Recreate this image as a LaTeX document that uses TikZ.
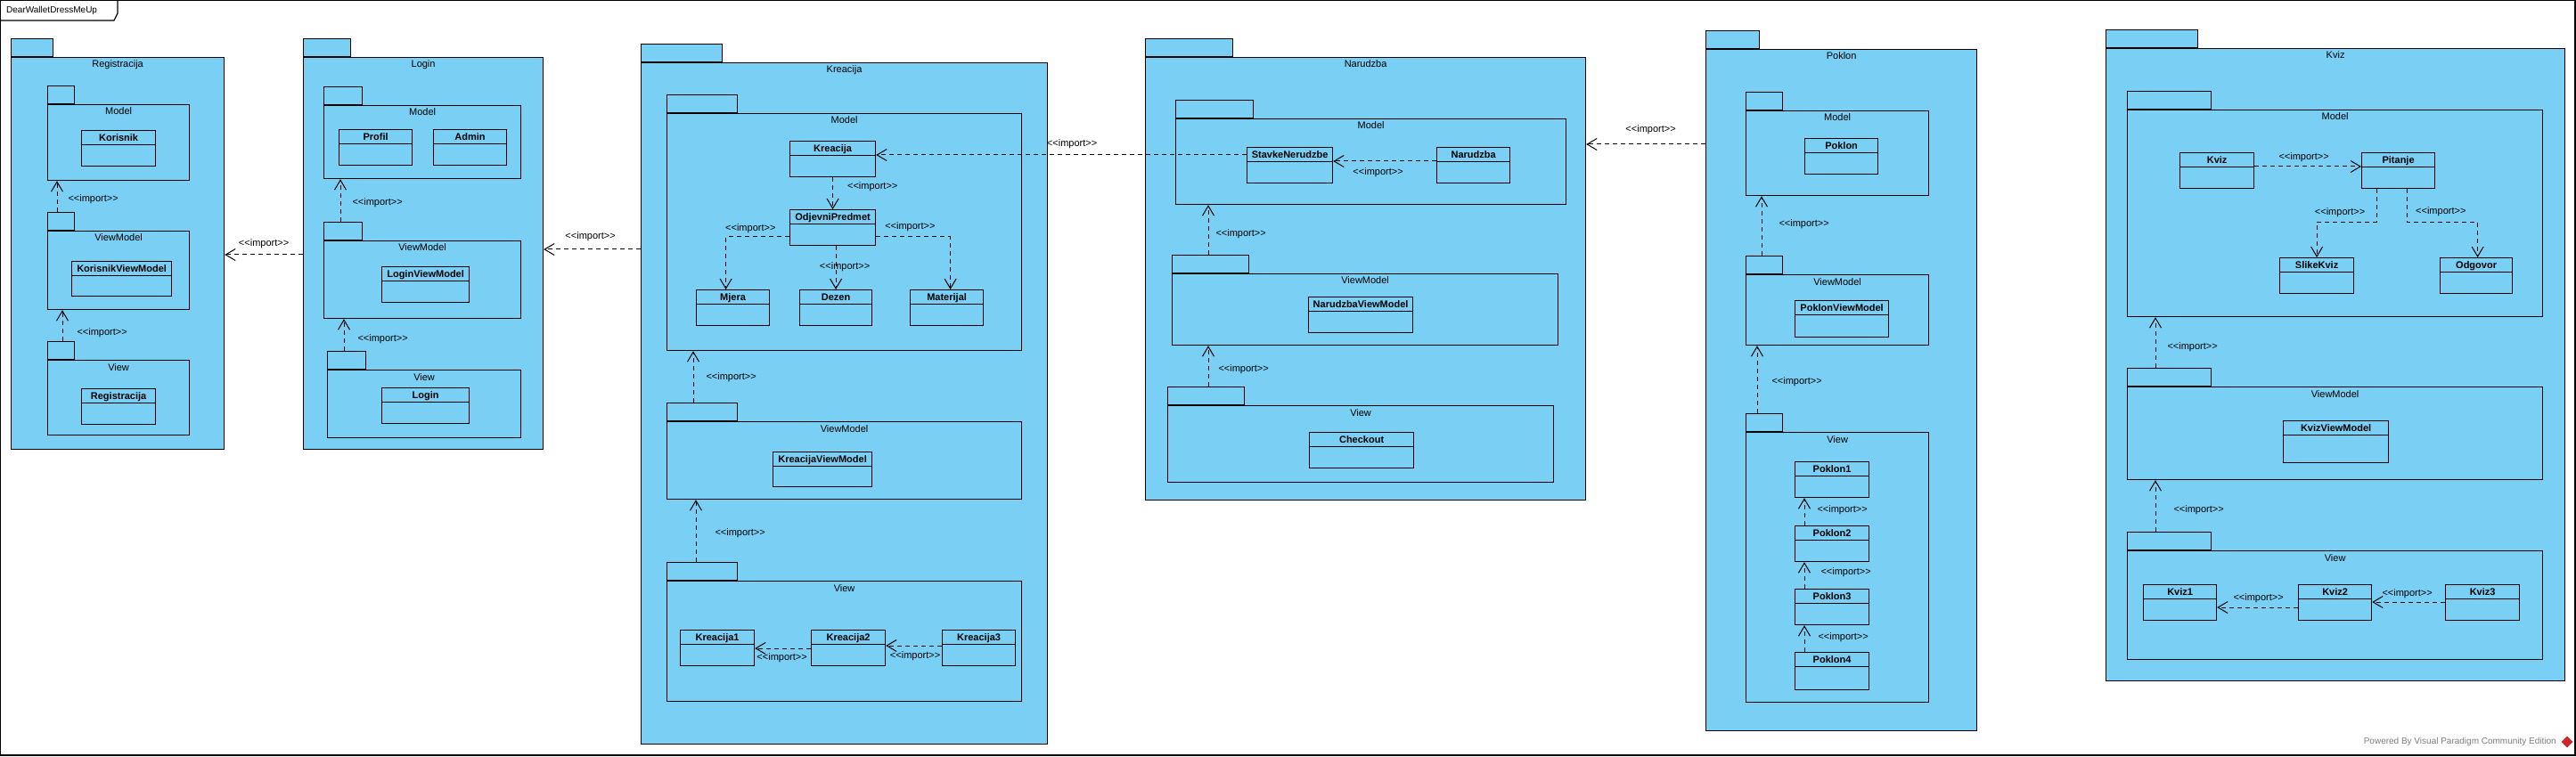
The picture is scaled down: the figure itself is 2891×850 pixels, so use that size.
\documentclass[tikz,border=0pt]{standalone}
\usepackage{xcolor}
\usepackage{fontspec}
\setmainfont{Liberation Sans}
\usepackage{tikz}
\usetikzlibrary{calc}
\usetikzlibrary{arrows.meta}
\usetikzlibrary{shapes.geometric}

\definecolor{pkgblue}{RGB}{122,207,245}
\definecolor{vpgray}{RGB}{125,125,125}
\definecolor{vpred}{RGB}{208,38,38}

\newcommand{\impstereo}{<{}<import>{}>}

\tikzset{
  pkg/.style={draw, fill=pkgblue, line width=1.2pt, inner sep=0pt, anchor=north west},
  pkgtab/.style={draw, fill=pkgblue, line width=1.2pt, inner sep=0pt, anchor=south west, minimum height=20pt},
  pkgtitle/.style={anchor=base, yshift=-12pt, inner sep=0pt},
  cls/.style={draw, fill=pkgblue, line width=1.2pt, inner sep=0pt, anchor=north west,
    font=\bfseries, text height=12pt, text depth=28pt,
    path picture={\draw[line width=1.2pt] ([yshift=-16pt]path picture bounding box.north west) -- ([yshift=-16pt]path picture bounding box.north east);}},
  imp/.style={line width=1pt, dash pattern=on 5pt off 4pt, -{Straight Barb[length=11pt, width=13pt]}},
  implbl/.style={inner sep=0pt}
}

\begin{document}
\begin{tikzpicture}[x=1pt, y=-1pt]
            \useasboundingbox (0,0) rectangle (2891,850);
            {\fontsize{11pt}{13pt}\selectfont

            % Drawing frame DearWalletDressMeUp
            \draw [line width=1.2pt] (0.6,0.6) rectangle (2890,848);%
            \draw [line width=1.2pt] (0.6,23) -- (128,23) -- (132,15) -- (132,0.6);%
            \node [anchor=west, inner sep=0pt, font=\fontsize{10pt}{12pt}\selectfont] (frm-title) at (7,12) {DearWalletDressMeUp};%

            % Drawing package Registracija
            \node [pkg, minimum width=239pt, minimum height=440pt, label={[pkgtitle]north:Registracija}] (reg) at (12,64) {};%
            \node [pkgtab, minimum width=47pt] (reg-tab) at (reg.north west) {};%
            \node [pkg, minimum width=159pt, minimum height=85pt, label={[pkgtitle]north:Model}] (regm) at (53,117) {};%
            \node [pkgtab, minimum width=30pt] (regm-tab) at (regm.north west) {};%
            \node [cls, minimum width=83pt] (kor) at (91,146) {Korisnik};%
            \node [pkg, minimum width=159pt, minimum height=88pt, label={[pkgtitle]north:ViewModel}] (regvm) at (53,259) {};%
            \node [pkgtab, minimum width=30pt] (regvm-tab) at (regvm.north west) {};%
            \node [cls, minimum width=112pt, text depth=27pt] (korvm) at (80,293) {KorisnikViewModel};%
            \node [pkg, minimum width=159pt, minimum height=84pt, label={[pkgtitle]north:View}] (regv) at (53,404) {};%
            \node [pkgtab, minimum width=30pt] (regv-tab) at (regv.north west) {};%
            \node [cls, minimum width=83pt] (regcl) at (91,436) {Registracija};%

            % Drawing package Login
            \node [pkg, minimum width=269pt, minimum height=440pt, label={[pkgtitle]north:Login}] (log) at (340,64) {};%
            \node [pkgtab, minimum width=53pt] (log-tab) at (log.north west) {};%
            \node [pkg, minimum width=221pt, minimum height=82pt, label={[pkgtitle]north:Model}] (logm) at (363,118) {};%
            \node [pkgtab, minimum width=43pt] (logm-tab) at (logm.north west) {};%
            \node [cls, minimum width=82pt] (pro) at (380,145) {Profil};%
            \node [cls, minimum width=82pt] (adm) at (486,145) {Admin};%
            \node [pkg, minimum width=221pt, minimum height=87pt, label={[pkgtitle]north:ViewModel}] (logvm) at (363,270) {};%
            \node [pkgtab, minimum width=43pt] (logvm-tab) at (logvm.north west) {};%
            \node [cls, minimum width=98pt] (logvmc) at (428,299) {LoginViewModel};%
            \node [pkg, minimum width=217pt, minimum height=76pt, label={[pkgtitle]north:View}] (logv) at (367,415) {};%
            \node [pkgtab, minimum width=43pt] (logv-tab) at (logv.north west) {};%
            \node [cls, minimum width=98pt] (logc) at (428,435) {Login};%

            % Drawing package Kreacija
            \node [pkg, minimum width=456pt, minimum height=765pt, label={[pkgtitle]north:Kreacija}] (kre) at (719,70) {};%
            \node [pkgtab, minimum width=91pt] (kre-tab) at (kre.north west) {};%
            \node [pkg, minimum width=398pt, minimum height=266pt, label={[pkgtitle]north:Model}] (krem) at (748,127) {};%
            \node [pkgtab, minimum width=79pt] (krem-tab) at (krem.north west) {};%
            \node [cls, minimum width=96pt] (kcl) at (886,158) {Kreacija};%
            \node [cls, minimum width=96pt] (odj) at (886,235) {OdjevniPredmet};%
            \node [cls, minimum width=82pt] (mje) at (781,325) {Mjera};%
            \node [cls, minimum width=81pt] (dez) at (897,325) {Dezen};%
            \node [cls, minimum width=82pt] (mat) at (1021,325) {Materijal};%
            \node [pkg, minimum width=398pt, minimum height=87pt, label={[pkgtitle]north:ViewModel}] (krevm) at (748,473) {};%
            \node [pkgtab, minimum width=79pt] (krevm-tab) at (krevm.north west) {};%
            \node [cls, minimum width=111pt, text depth=27pt] (krevmc) at (867,507) {KreacijaViewModel};%
            \node [pkg, minimum width=398pt, minimum height=135pt, label={[pkgtitle]north:View}] (krev) at (748,652) {};%
            \node [pkgtab, minimum width=79pt] (krev-tab) at (krev.north west) {};%
            \node [cls, minimum width=83pt] (kr1) at (763,707) {Kreacija1};%
            \node [cls, minimum width=83pt] (kr2) at (910,707) {Kreacija2};%
            \node [cls, minimum width=82pt] (kr3) at (1057,707) {Kreacija3};%

            % Drawing package Narudzba
            \node [pkg, minimum width=494pt, minimum height=497pt, label={[pkgtitle]north:Narudzba}] (nar) at (1285,64) {};%
            \node [pkgtab, minimum width=98pt] (nar-tab) at (nar.north west) {};%
            \node [pkg, minimum width=438pt, minimum height=96pt, label={[pkgtitle]north:Model}] (narm) at (1319,133) {};%
            \node [pkgtab, minimum width=87pt] (narm-tab) at (narm.north west) {};%
            \node [cls, minimum width=96pt] (stv) at (1399,165) {StavkeNerudzbe};%
            \node [cls, minimum width=82pt] (ncl) at (1612,165) {Narudzba};%
            \node [pkg, minimum width=433pt, minimum height=80pt, label={[pkgtitle]north:ViewModel}] (narvm) at (1315,307) {};%
            \node [pkgtab, minimum width=86pt] (narvm-tab) at (narvm.north west) {};%
            \node [cls, minimum width=117pt] (narvmc) at (1468,333) {NarudzbaViewModel};%
            \node [pkg, minimum width=433pt, minimum height=86pt, label={[pkgtitle]north:View}] (narv) at (1310,455) {};%
            \node [pkgtab, minimum width=86pt] (narv-tab) at (narv.north west) {};%
            \node [cls, minimum width=117pt] (chk) at (1469,485) {Checkout};%

            % Drawing package Poklon
            \node [pkg, minimum width=304pt, minimum height=765pt, label={[pkgtitle]north:Poklon}] (pok) at (1914,55) {};%
            \node [pkgtab, minimum width=60pt] (pok-tab) at (pok.north west) {};%
            \node [pkg, minimum width=205pt, minimum height=95pt, label={[pkgtitle]north:Model}] (pokm) at (1959,124) {};%
            \node [pkgtab, minimum width=41pt] (pokm-tab) at (pokm.north west) {};%
            \node [cls, minimum width=82pt] (pcl) at (2025,155) {Poklon};%
            \node [pkg, minimum width=205pt, minimum height=79pt, label={[pkgtitle]north:ViewModel}] (pokvm) at (1959,308) {};%
            \node [pkgtab, minimum width=41pt] (pokvm-tab) at (pokvm.north west) {};%
            \node [cls, minimum width=105pt, text depth=29pt] (pokvmc) at (2014,337) {PoklonViewModel};%
            \node [pkg, minimum width=205pt, minimum height=303pt, label={[pkgtitle]north:View}] (pokv) at (1959,485) {};%
            \node [pkgtab, minimum width=41pt] (pokv-tab) at (pokv.north west) {};%
            \node [cls, minimum width=83pt] (p1) at (2014,518) {Poklon1};%
            \node [cls, minimum width=83pt] (p2) at (2014,590) {Poklon2};%
            \node [cls, minimum width=83pt] (p3) at (2014,661) {Poklon3};%
            \node [cls, minimum width=83pt, text depth=30pt] (p4) at (2014,732) {Poklon4};%

            % Drawing package Kviz
            \node [pkg, minimum width=515pt, minimum height=710pt, label={[pkgtitle]north:Kviz}] (kvp) at (2363,54) {};%
            \node [pkgtab, minimum width=103pt] (kvp-tab) at (kvp.north west) {};%
            \node [pkg, minimum width=466pt, minimum height=232pt, label={[pkgtitle]north:Model}] (kvm) at (2387,123) {};%
            \node [pkgtab, minimum width=94pt] (kvm-tab) at (kvm.north west) {};%
            \node [cls, minimum width=83pt] (kvz) at (2446,171) {Kviz};%
            \node [cls, minimum width=82pt] (pit) at (2650,171) {Pitanje};%
            \node [cls, minimum width=83pt] (sli) at (2558,289) {SlikeKviz};%
            \node [cls, minimum width=81pt] (odg) at (2738,289) {Odgovor};%
            \node [pkg, minimum width=466pt, minimum height=104pt, label={[pkgtitle]north:ViewModel}] (kvvm) at (2387,434) {};%
            \node [pkgtab, minimum width=94pt] (kvvm-tab) at (kvvm.north west) {};%
            \node [cls, minimum width=118pt, text depth=35pt] (kvvmc) at (2562,472) {KvizViewModel};%
            \node [pkg, minimum width=466pt, minimum height=122pt, label={[pkgtitle]north:View}] (kvv) at (2387,618) {};%
            \node [pkgtab, minimum width=94pt] (kvv-tab) at (kvv.north west) {};%
            \node [cls, minimum width=82pt] (kv1) at (2405,656) {Kviz1};%
            \node [cls, minimum width=82pt] (kv2) at (2579,656) {Kviz2};%
            \node [cls, minimum width=83pt] (kv3) at (2744,656) {Kviz3};%

            % Drawing imports inside Registracija
            \draw [imp] ([xshift=11pt]regvm-tab.north west) -- ([xshift=11pt]regvm-tab.north west |- regm.south) node [implbl, midway, anchor=west, shift={(12,3.5)}] {\impstereo};%
            \draw [imp] ([xshift=17pt]regv-tab.north west) -- ([xshift=17pt]regv-tab.north west |- regvm.south) node [implbl, midway, anchor=west, shift={(16,8.5)}] {\impstereo};%

            % Drawing imports inside Login
            \draw [imp] ([xshift=19pt]logvm-tab.north west) -- ([xshift=19pt]logvm-tab.north west |- logm.south) node [implbl, midway, anchor=west, shift={(13,3)}] {\impstereo};%
            \draw [imp] ([xshift=19pt]logv-tab.north west) -- ([xshift=19pt]logv-tab.north west |- logvm.south) node [implbl, midway, anchor=west, shift={(15,5)}] {\impstereo};%

            % Drawing imports inside Kreacija
            \draw [imp] (kcl.south) -- (odj.north) node [implbl, midway, anchor=west, shift={(16,-7.5)}] {\impstereo};%
            \draw [imp] ([yshift=-31pt]odj.north west) -| ([xshift=-8pt]mje.north) node [implbl, pos=0.25, shift={(-8,-9)}] {\impstereo};%
            \draw [imp] (odj.south -| dez.north) -- (dez.north) node [implbl, midway, shift={(10,-1)}] {\impstereo};%
            \draw [imp] ([yshift=-31pt]odj.north east) -| ([xshift=4pt]mat.north) node [implbl, pos=0.25, shift={(-3.5,-11)}] {\impstereo};%
            \draw [imp] ([xshift=30pt]krevm-tab.north west) -- ([xshift=30pt]krevm-tab.north west |- krem.south) node [implbl, midway, anchor=west, shift={(14,1)}] {\impstereo};%
            \draw [imp] ([xshift=33pt]krev-tab.north west) -- ([xshift=33pt]krev-tab.north west |- krevm.south) node [implbl, midway, anchor=west, shift={(21,3)}] {\impstereo};%
            \draw [imp] ([yshift=-21pt]kr2.north west) -- ([yshift=-21pt]kr1.north east) node [implbl, midway, shift={(-1,11)}] {\impstereo};%
            \draw [imp] ([yshift=-18pt]kr3.north west) -- ([yshift=-18pt]kr2.north east) node [implbl, midway, shift={(1.5,12)}] {\impstereo};%

            % Drawing imports inside Narudzba
            \draw [imp] ([yshift=-16pt]ncl.north west) -- ([yshift=-16pt]stv.north east) node [implbl, midway, shift={(-7.5,13)}] {\impstereo};%
            \draw [imp] ([xshift=41pt]narvm-tab.north west) -- ([xshift=41pt]narvm-tab.north west |- narm.south) node [implbl, midway, anchor=west, shift={(8,5)}] {\impstereo};%
            \draw [imp] ([xshift=46pt]narv-tab.north west) -- ([xshift=46pt]narv-tab.north west |- narvm.south) node [implbl, midway, anchor=west, shift={(11,4)}] {\impstereo};%

            % Drawing imports inside Poklon
            \draw [imp] ([xshift=18pt]pokvm-tab.north west) -- ([xshift=18pt]pokvm-tab.north west |- pokm.south) node [implbl, midway, anchor=west, shift={(19,-1.5)}] {\impstereo};%
            \draw [imp] ([xshift=13pt]pokv-tab.north west) -- ([xshift=13pt]pokv-tab.north west |- pokvm.south) node [implbl, midway, anchor=west, shift={(16,2.5)}] {\impstereo};%
            \draw [imp] ([xshift=11pt]p2.north west) -- ([xshift=11pt]p1.south west) node [implbl, midway, anchor=west, shift={(14,-2)}] {\impstereo};%
            \draw [imp] ([xshift=11pt]p3.north west) -- ([xshift=11pt]p2.south west) node [implbl, midway, anchor=west, shift={(18,-3)}] {\impstereo};%
            \draw [imp] ([xshift=11pt]p4.north west) -- ([xshift=11pt]p3.south west) node [implbl, midway, anchor=west, shift={(15,-1)}] {\impstereo};%

            % Drawing imports inside Kviz
            \draw [imp] ([yshift=-16pt]kvz.north east) -- ([yshift=-16pt]pit.north west) node [implbl, midway, shift={(-4.5,-10)}] {\impstereo};%
            \draw [imp] ([xshift=17pt]pit.south west) -- ++(0,37) -| node [implbl, pos=0.25, shift={(-7.5,-11)}] {\impstereo} (sli.north);%
            \draw [imp] ([xshift=51pt]pit.south west) -- ++(0,37) -| node [implbl, pos=0.25, shift={(-1.5,-12)}] {\impstereo} ([xshift=1.5pt]odg.north);%
            \draw [imp] ([xshift=32pt]kvvm-tab.north west) -- ([xshift=32pt]kvvm-tab.north west |- kvm.south) node [implbl, midway, anchor=west, shift={(13,5.5)}] {\impstereo};%
            \draw [imp] ([xshift=32pt]kvv-tab.north west) -- ([xshift=32pt]kvv-tab.north west |- kvvm.south) node [implbl, midway, anchor=west, shift={(20,5)}] {\impstereo};%
            \draw [imp] ([yshift=-26pt]kv2.north west) -- ([yshift=-26pt]kv1.north east) node [implbl, midway, shift={(1,-10)}] {\impstereo};%
            \draw [imp] ([yshift=-20pt]kv3.north west) -- ([yshift=-20pt]kv2.north east) node [implbl, midway, shift={(-1.5,-9)}] {\impstereo};%

            % Drawing imports between packages
            \coordinate (log-out) at ([yshift=-222pt]log.north west);%
            \draw [imp] (log-out) -- (log-out -| reg.east) node [implbl, midway, shift={(0,-12)}] {\impstereo};%
            \coordinate (kre-out) at ([yshift=-210pt]kre.north west);%
            \draw [imp] (kre-out) -- (kre-out -| log.east) node [implbl, midway, shift={(-2,-14)}] {\impstereo};%
            \coordinate (kcl-in) at ([yshift=-16pt]kcl.north east);%
            \draw [imp] (kcl-in -| stv.west) -- (kcl-in) node [implbl, midway, shift={(12,-12)}] {\impstereo};%
            \coordinate (pok-out) at ([yshift=-107pt]pok.north west);%
            \draw [imp] (pok-out) -- (pok-out -| nar.east) node [implbl, midway, shift={(5.5,-16)}] {\impstereo};%

            % Marking the editor
            \node [anchor=east, inner sep=0pt, text=vpgray, font=\fontsize{10pt}{12pt}\selectfont] (vp-mark) at (2869,833) {Powered By Visual Paradigm Community Edition};%
            \node [diamond, fill=vpred, minimum size=13pt, inner sep=0pt] (vp-logo) at (2881,833) {};%
            }
\end{tikzpicture}
\end{document}
